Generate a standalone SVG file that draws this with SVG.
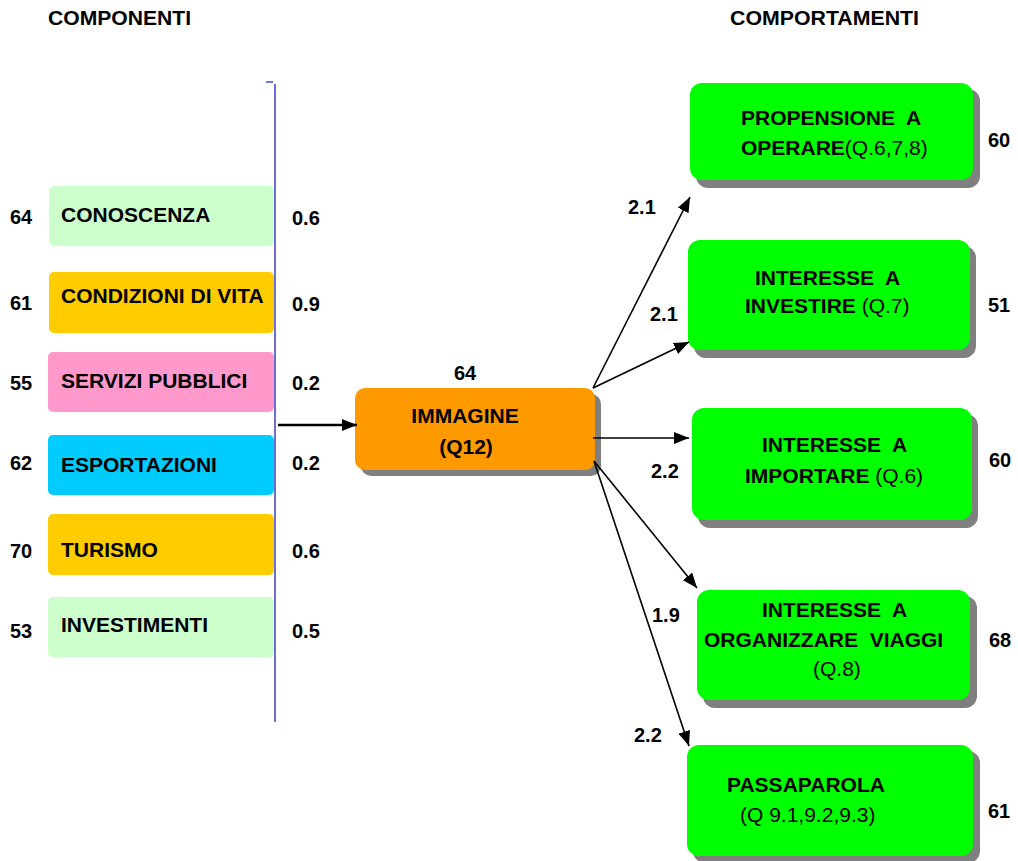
<svg xmlns="http://www.w3.org/2000/svg" width="1018" height="861" viewBox="0 0 1018 861">
<style>
text{font-family:"Liberation Sans",Arial,sans-serif;fill:#000}
.b{font-weight:bold;font-size:21px}
.n{font-weight:bold;font-size:20px}
.r{font-weight:normal}
.hd{font-weight:bold;font-size:20px}
.conn{stroke:#000;stroke-width:1.6;fill:none}
.shadow{fill:#808080}
.green{fill:#00FF00}
</style>
<defs>
<marker id="ah" markerUnits="userSpaceOnUse" markerWidth="16" markerHeight="12" refX="15" refY="6" orient="auto">
<path d="M0,0 L15,6 L0,12 z" fill="#000"/>
</marker>
</defs>
<g id="headers">
<text class="hd" x="48" y="25" textLength="143" lengthAdjust="spacingAndGlyphs">COMPONENTI</text>
<text class="hd" x="730" y="25" textLength="189" lengthAdjust="spacingAndGlyphs">COMPORTAMENTI</text>
</g>
<g id="axis">
<line x1="275" y1="84" x2="275" y2="722" stroke="#4848CC" stroke-width="1.6"/>
<line x1="266" y1="82" x2="273" y2="82" stroke="#4848CC" stroke-width="1.5"/>
</g>
<g id="conoscenza">
<rect x="49" y="186" width="225" height="60" rx="5" fill="#CCFFCC"/>
<text class="b" x="61" y="222">CONOSCENZA</text>
<text class="n" x="10" y="224">64</text>
<text class="n" x="292" y="225">0.6</text>
</g>
<g id="condizioni">
<rect x="49" y="272" width="225" height="61" rx="5" fill="#FFCC00"/>
<text class="b" x="61" y="303">CONDIZIONI DI VITA</text>
<text class="n" x="10" y="310">61</text>
<text class="n" x="292" y="311">0.9</text>
</g>
<g id="servizi">
<rect x="48" y="352" width="226" height="60" rx="5" fill="#FF99CC"/>
<text class="b" x="61" y="388">SERVIZI PUBBLICI</text>
<text class="n" x="10" y="390">55</text>
<text class="n" x="292" y="390">0.2</text>
</g>
<g id="esportazioni">
<rect x="48" y="435" width="226" height="60" rx="5" fill="#00CCFF"/>
<text class="b" x="61" y="472">ESPORTAZIONI</text>
<text class="n" x="10" y="470">62</text>
<text class="n" x="292" y="470">0.2</text>
</g>
<g id="turismo">
<rect x="48" y="514" width="226" height="61" rx="5" fill="#FFCC00"/>
<text class="b" x="61" y="557">TURISMO</text>
<text class="n" x="10" y="558">70</text>
<text class="n" x="292" y="558">0.6</text>
</g>
<g id="investimenti">
<rect x="48" y="597" width="226" height="60" rx="5" fill="#CCFFCC"/>
<text class="b" x="61" y="632">INVESTIMENTI</text>
<text class="n" x="10" y="638">53</text>
<text class="n" x="292" y="638">0.5</text>
</g>
<g id="immagine">
<rect class="shadow" x="361" y="394" width="240" height="82" rx="10"/>
<rect x="355" y="388" width="240" height="82" rx="10" fill="#FF9900"/>
<text class="b" x="465" y="423" text-anchor="middle">IMMAGINE</text>
<text class="b" x="466" y="454" text-anchor="middle">(Q12)</text>
<text class="n" x="465" y="380" text-anchor="middle">64</text>
</g>
<g id="propensione">
<rect class="shadow" x="696" y="89" width="284" height="99" rx="12"/>
<rect class="green" x="690" y="83" width="283" height="97" rx="12"/>
<text class="b" x="741" y="125" xml:space="preserve">PROPENSIONE  A</text>
<text class="b" x="741" y="155">OPERARE<tspan class="r">(Q.6,7,8)</tspan></text>
<text class="n" x="988" y="147">60</text>
</g>
<g id="investire">
<rect class="shadow" x="694" y="246" width="282" height="112" rx="12"/>
<rect class="green" x="688" y="240" width="282" height="110" rx="12"/>
<text class="b" x="755" y="285" xml:space="preserve">INTERESSE  A</text>
<text class="b" x="745" y="313">INVESTIRE <tspan class="r">(Q.7)</tspan></text>
<text class="n" x="988" y="312">51</text>
</g>
<g id="importare">
<rect class="shadow" x="698" y="414" width="280" height="114" rx="12"/>
<rect class="green" x="692" y="408" width="280" height="112" rx="12"/>
<text class="b" x="762" y="452" xml:space="preserve">INTERESSE  A</text>
<text class="b" x="745" y="483">IMPORTARE <tspan class="r">(Q.6)</tspan></text>
<text class="n" x="989" y="467">60</text>
</g>
<g id="viaggi">
<rect class="shadow" x="703" y="596" width="274" height="112" rx="12"/>
<rect class="green" x="697" y="590" width="273" height="110" rx="12"/>
<text class="b" x="762" y="617" xml:space="preserve">INTERESSE  A</text>
<text class="b" x="704" y="647" xml:space="preserve">ORGANIZZARE  VIAGGI</text>
<text class="b r" x="813" y="676">(Q.8)</text>
<text class="n" x="989" y="647">68</text>
</g>
<g id="passaparola">
<rect class="shadow" x="693" y="751" width="287" height="112" rx="12"/>
<rect class="green" x="687" y="745" width="286" height="111" rx="12"/>
<text class="b" x="727" y="792">PASSAPAROLA</text>
<text class="b r" x="740" y="822">(Q 9.1,9.2,9.3)</text>
<text class="n" x="988" y="818">61</text>
</g>
<g id="connectors">
<line x1="278" y1="425" x2="357" y2="425" stroke="#000" stroke-width="2.6" marker-end="url(#ah)"/>
<line class="conn" x1="593" y1="388" x2="690" y2="197" marker-end="url(#ah)"/>
<line class="conn" x1="593" y1="388" x2="689" y2="342" marker-end="url(#ah)"/>
<line class="conn" x1="593" y1="438" x2="689" y2="438" marker-end="url(#ah)"/>
<line class="conn" x1="594" y1="461" x2="697" y2="588" marker-end="url(#ah)"/>
<line class="conn" x1="594" y1="461" x2="689" y2="746" marker-end="url(#ah)"/>
</g>
<g id="connector-labels">
<text class="n" x="628" y="214">2.1</text>
<text class="n" x="650" y="321">2.1</text>
<text class="n" x="651" y="478">2.2</text>
<text class="n" x="652" y="622">1.9</text>
<text class="n" x="634" y="742">2.2</text>
</g>
</svg>
